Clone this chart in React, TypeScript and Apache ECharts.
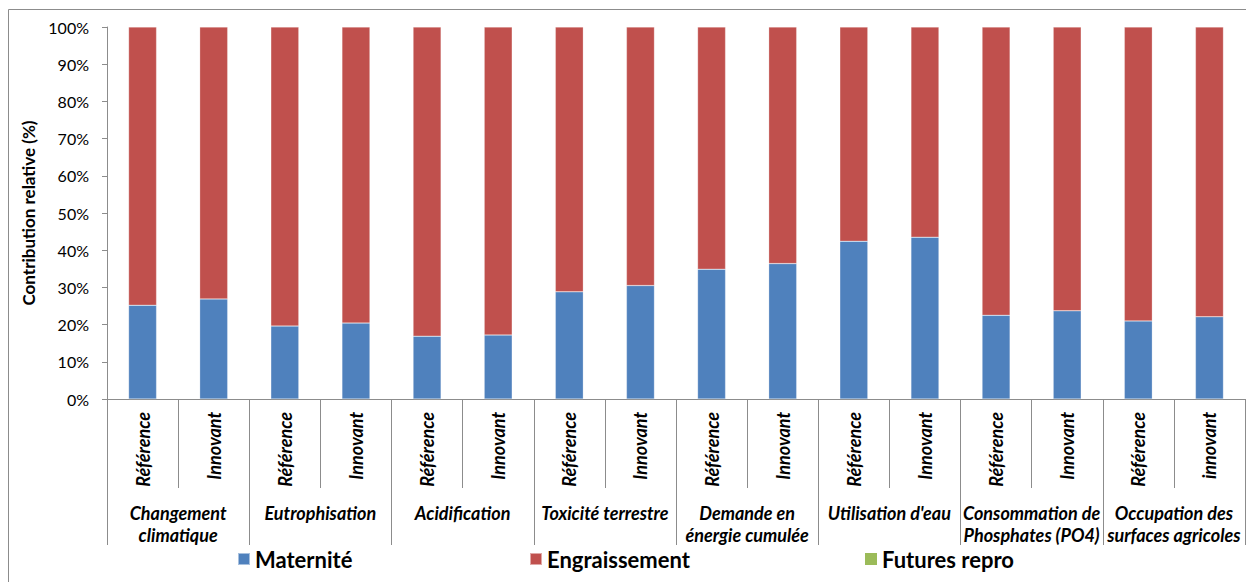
import React, { useEffect, useRef } from "react";
import * as echarts from "echarts";

const scenarios = [
  "Référence", "Innovant", "Référence", "Innovant", "Référence", "Innovant", "Référence", "Innovant",
  "Référence", "Innovant", "Référence", "Innovant", "Référence", "Innovant", "Référence", "innovant",
];
const impactGroups = [
  "Changement\nclimatique",
  "Eutrophisation",
  "Acidification",
  "Toxicité terrestre",
  "Demande en\nénergie cumulée",
  "Utilisation d'eau",
  "Consommation de\nPhosphates (PO4)",
  "Occupation des\nsurfaces agricoles",
];
const maternite = [25.2, 26.9, 19.6, 20.4, 16.9, 17.2, 28.8, 30.5, 34.9, 36.4, 42.4, 43.5, 22.5, 23.7, 21.0, 22.1];
const engraissement = [74.8, 73.1, 80.4, 79.6, 83.1, 82.8, 71.2, 69.5, 65.1, 63.6, 57.6, 56.5, 77.5, 76.3, 79.0, 77.9];
const futuresRepro = [0, 0, 0, 0, 0, 0, 0, 0, 0, 0, 0, 0, 0, 0, 0, 0];
const yTicks = { min: 0, max: 100, interval: 10 };

const FONT = "Lato, 'Liberation Sans', sans-serif";
const GRID = "#8c8c8c";

export default function App() {
  const ref = useRef<HTMLDivElement>(null);
  useEffect(() => {
    if (!ref.current) return;
    const chart = echarts.init(ref.current, undefined, { renderer: "svg" });
    const legendText = { fontFamily: FONT, fontSize: 22, fontWeight: "bold" as const, color: "#000" };
    chart.setOption({
      animation: false,
      backgroundColor: "#fff",
      textStyle: { fontFamily: FONT },
      grid: { left: 107, right: 1, top: 27, bottom: 183, containLabel: false },
      legend: [
        { data: ["Maternité"], left: 232, top: 543, itemWidth: 12, itemHeight: 12, icon: "rect", textStyle: legendText, selectedMode: false },
        { data: ["Engraissement"], left: 524, top: 543, itemWidth: 12, itemHeight: 12, icon: "rect", textStyle: legendText, selectedMode: false },
        { data: ["Futures repro"], left: 860, top: 543, itemWidth: 12, itemHeight: 12, icon: "rect", textStyle: legendText, selectedMode: false },
      ],
      graphic: [
        {
          type: "rect",
          shape: { x: 8.5, y: 9.5, width: 1300, height: 700 },
          style: { fill: "none", stroke: GRID, lineWidth: 1 },
          silent: true,
        },
      ],
      xAxis: [
        {
          type: "category",
          data: scenarios,
          position: "bottom",
          axisLine: { show: true, lineStyle: { color: GRID, width: 1 } },
          axisTick: { show: true, length: 89, interval: 0, lineStyle: { color: GRID } },
          axisLabel: {
            interval: 0,
            rotate: 90,
            margin: 13,
            fontFamily: FONT,
            fontSize: 18,
            fontStyle: "italic",
            fontWeight: "bold",
            color: "#000",
          },
        },
        {
          type: "category",
          data: impactGroups,
          position: "bottom",
          axisLine: { show: false },
          axisTick: { show: true, length: 146, interval: 0, lineStyle: { color: GRID } },
          axisLabel: {
            interval: 0,
            margin: 103,
            fontFamily: FONT,
            fontSize: 18,
            lineHeight: 22,
            fontStyle: "italic",
            fontWeight: "bold",
            color: "#000",
          },
        },
      ],
      yAxis: {
        type: "value",
        min: yTicks.min,
        max: yTicks.max,
        interval: yTicks.interval,
        name: "Contribution relative (%)",
        nameLocation: "middle",
        nameGap: 59,
        nameTextStyle: { fontFamily: FONT, fontSize: 17, fontWeight: "bold", color: "#000" },
        axisLine: { show: true, lineStyle: { color: GRID } },
        axisTick: { show: true, length: 5, lineStyle: { color: GRID } },
        splitLine: { show: false },
        axisLabel: { formatter: "{value}%", margin: 18, fontFamily: FONT, fontSize: 16, color: "#000" },
      },
      series: [
        {
          name: "Maternité",
          type: "bar",
          stack: "total",
          xAxisIndex: 0,
          barWidth: 28,
          data: maternite,
          itemStyle: { color: "#4F81BD", borderColor: "rgba(255,255,255,0.5)", borderWidth: 0.5 },
        },
        {
          name: "Engraissement",
          type: "bar",
          stack: "total",
          xAxisIndex: 0,
          barWidth: 28,
          data: engraissement,
          itemStyle: { color: "#C0504D", borderColor: "rgba(255,255,255,0.5)", borderWidth: 0.5 },
        },
        {
          name: "Futures repro",
          type: "bar",
          stack: "total",
          xAxisIndex: 0,
          barWidth: 28,
          data: futuresRepro,
          itemStyle: { color: "#9BBB59" },
        },
      ],
    });
    return () => chart.dispose();
  }, []);
  return (
    <div
      ref={ref}
      style={{ position: "absolute", left: 0, top: 0, width: 1246, height: 582, background: "#fff" }}
    />
  );
}
